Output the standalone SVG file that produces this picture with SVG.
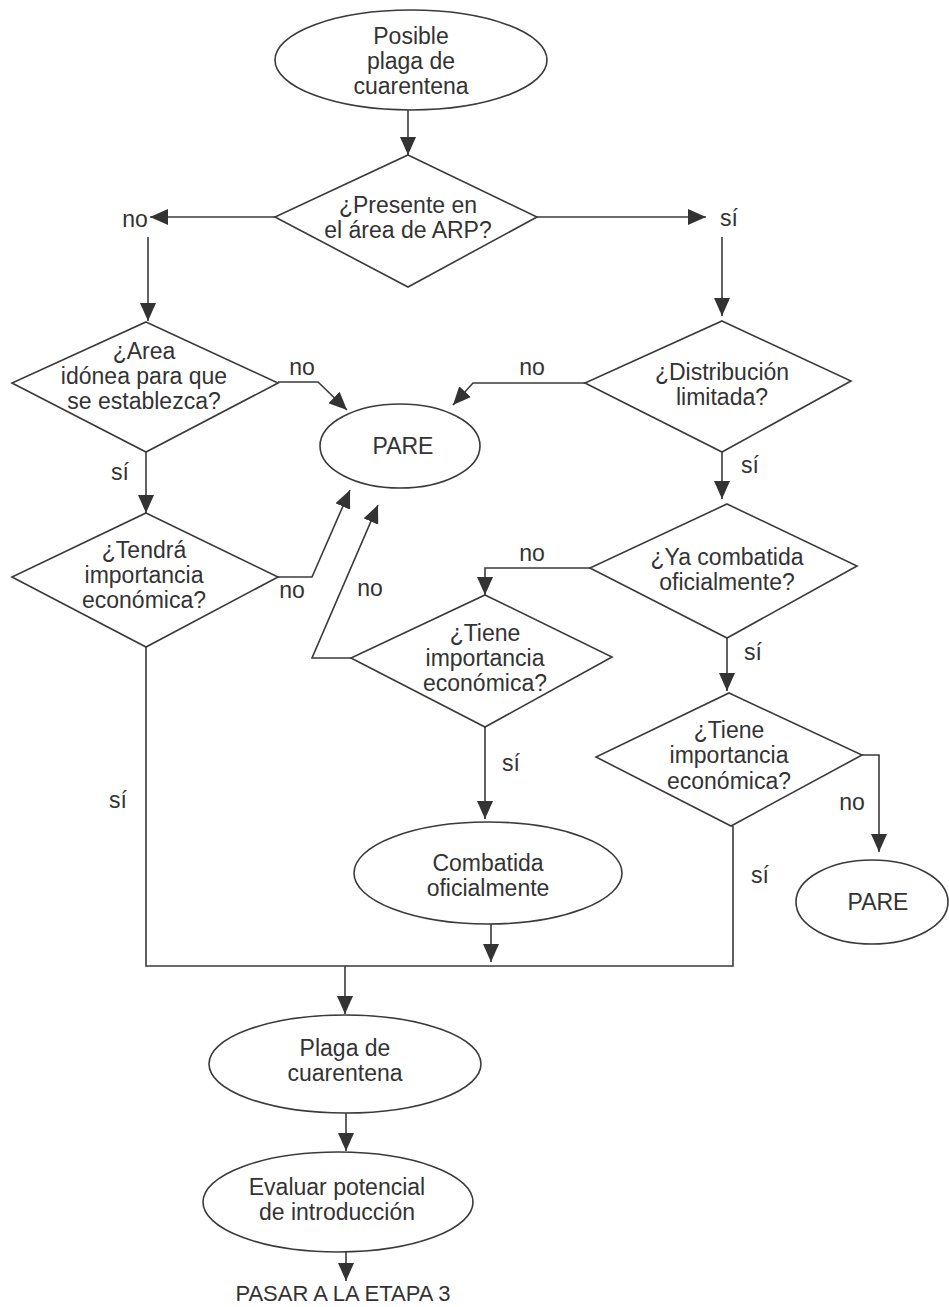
<svg xmlns="http://www.w3.org/2000/svg" width="949" height="1307" viewBox="0 0 949 1307">
<defs>
<style>
.n{fill:#fff;stroke:#3a3a3a;stroke-width:1.6}
.c{fill:none;stroke:#3a3a3a;stroke-width:1.6}
text{font-family:"Liberation Sans",Arial,sans-serif;font-size:23px;fill:#333}
.t{text-anchor:middle}
</style>
<marker id="ah" markerWidth="18" markerHeight="16" refX="18" refY="8" orient="auto" markerUnits="userSpaceOnUse"><path d="M0,0 L18,8 L0,16 z" fill="#333"/></marker>
</defs>
<rect width="949" height="1307" fill="#fff"/>
<g id="connectors">
<path class="c" d="M408,110 V155" marker-end="url(#ah)"/>
<path class="c" d="M275,217 H150" marker-end="url(#ah)"/>
<path class="c" d="M537,217 H706" marker-end="url(#ah)"/>
<path class="c" d="M148,237 V321" marker-end="url(#ah)"/>
<path class="c" d="M722,237 V316" marker-end="url(#ah)"/>
<path class="c" d="M278,382 H318 L347,410" marker-end="url(#ah)"/>
<path class="c" d="M585,383 H473 L453,405" marker-end="url(#ah)"/>
<path class="c" d="M146,452 V513" marker-end="url(#ah)"/>
<path class="c" d="M722,452 V499" marker-end="url(#ah)"/>
<path class="c" d="M278,577 H312 L350,490" marker-end="url(#ah)"/>
<path class="c" d="M351,658 H312 L378,505" marker-end="url(#ah)"/>
<path class="c" d="M590,568 H485 V595" marker-end="url(#ah)"/>
<path class="c" d="M727,638 V691" marker-end="url(#ah)"/>
<path class="c" d="M485,727 V819" marker-end="url(#ah)"/>
<path class="c" d="M862,755 H879 V852" marker-end="url(#ah)"/>
<path class="c" d="M146,647 V966 H733 V826"/>
<path class="c" d="M491,924 V962" marker-end="url(#ah)"/>
<path class="c" d="M345,966 V1014" marker-end="url(#ah)"/>
<path class="c" d="M346,1113 V1151" marker-end="url(#ah)"/>
<path class="c" d="M346,1252 V1281" marker-end="url(#ah)"/>
</g>
<g id="labels">
<text class="t" x="135" y="227">no</text>
<text class="t" x="729" y="226">sí</text>
<text class="t" x="302" y="375">no</text>
<text class="t" x="532" y="375">no</text>
<text class="t" x="120" y="480">sí</text>
<text class="t" x="750" y="473">sí</text>
<text class="t" x="292" y="598">no</text>
<text class="t" x="370" y="596">no</text>
<text class="t" x="532" y="561">no</text>
<text class="t" x="753" y="660">sí</text>
<text class="t" x="511" y="771">sí</text>
<text class="t" x="852" y="810">no</text>
<text class="t" x="118" y="808">sí</text>
<text class="t" x="760" y="883">sí</text>
</g>
<g id="n-start">
<ellipse class="n" cx="411" cy="60" rx="136" ry="50"/>
<text class="t" x="411" y="44">Posible</text>
<text class="t" x="411" y="69">plaga de</text>
<text class="t" x="411" y="94">cuarentena</text>
</g>
<g id="n-presente">
<polygon class="n" points="408,155 537,217 408,287 275,217"/>
<text class="t" x="408" y="213">¿Presente en</text>
<text class="t" x="408" y="238">el área de ARP?</text>
</g>
<g id="n-area">
<polygon class="n" points="146,322 278,383 146,452 12,383"/>
<text class="t" x="144" y="359">¿Area</text>
<text class="t" x="144" y="384">idónea para que</text>
<text class="t" x="144" y="409">se establezca?</text>
</g>
<g id="n-pare1">
<ellipse class="n" cx="400" cy="446" rx="80" ry="42"/>
<text class="t" x="403" y="454">PARE</text>
</g>
<g id="n-distribucion">
<polygon class="n" points="722,321 851,381 722,452 585,383"/>
<text class="t" x="722" y="380">¿Distribución</text>
<text class="t" x="722" y="405">limitada?</text>
</g>
<g id="n-tendra">
<polygon class="n" points="146,513 278,577 146,647 12,577"/>
<text class="t" x="144" y="558">¿Tendrá</text>
<text class="t" x="144" y="583">importancia</text>
<text class="t" x="144" y="608">económica?</text>
</g>
<g id="n-yacombatida">
<polygon class="n" points="727,504 857,566 727,638 590,568"/>
<text class="t" x="727" y="565">¿Ya combatida</text>
<text class="t" x="727" y="590">oficialmente?</text>
</g>
<g id="n-tiene1">
<polygon class="n" points="485,595 612,657 485,727 351,658"/>
<text class="t" x="485" y="641">¿Tiene</text>
<text class="t" x="485" y="666">importancia</text>
<text class="t" x="485" y="691">económica?</text>
</g>
<g id="n-tiene2">
<polygon class="n" points="729,693 862,755 731,826 596,757"/>
<text class="t" x="729" y="738">¿Tiene</text>
<text class="t" x="729" y="763">importancia</text>
<text class="t" x="729" y="789">económica?</text>
</g>
<g id="n-combatida">
<ellipse class="n" cx="488" cy="873" rx="134" ry="51"/>
<text class="t" x="488" y="871">Combatida</text>
<text class="t" x="488" y="896">oficialmente</text>
</g>
<g id="n-pare2">
<ellipse class="n" cx="872" cy="902" rx="76" ry="42"/>
<text class="t" x="878" y="910">PARE</text>
</g>
<g id="n-plaga">
<ellipse class="n" cx="345" cy="1064" rx="136" ry="49"/>
<text class="t" x="345" y="1056">Plaga de</text>
<text class="t" x="345" y="1081">cuarentena</text>
</g>
<g id="n-evaluar">
<ellipse class="n" cx="338" cy="1202" rx="135" ry="50"/>
<text class="t" x="337" y="1195">Evaluar potencial</text>
<text class="t" x="337" y="1220">de introducción</text>
</g>
<g id="n-pasar">
<text class="t" x="343" y="1301" style="font-size:22px">PASAR A LA ETAPA 3</text>
</g>
</svg>
